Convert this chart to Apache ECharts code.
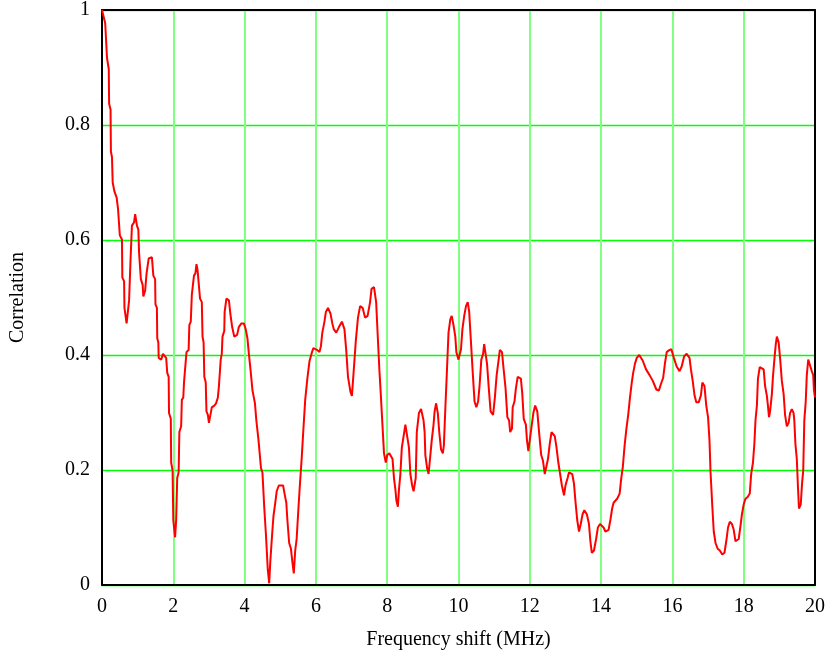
<!DOCTYPE html>
<html>
<head>
<meta charset="utf-8">
<script src="https://cdn.jsdelivr.net/npm/echarts@6/dist/echarts.min.js"></script>
<style>html,body{margin:0;padding:0;background:#fff}#c{width:832px;height:657px}</style>
</head>
<body>
<div id="c"></div>
<script>
const shiftMHz = [0,0.09,0.14,0.19,0.20,0.24,0.25,0.28,0.30,0.35,0.41,0.45,0.50,0.56,0.57,0.62,0.63,0.69,0.73,0.76,0.80,0.84,0.90,0.93,0.98,1.02,1.04,1.09,1.14,1.16,1.21,1.25,1.31,1.40,1.44,1.49,1.50,1.54,1.55,1.58,1.59,1.66,1.71,1.75,1.80,1.83,1.87,1.88,1.93,1.94,1.98,2.00,2.05,2.08,2.11,2.15,2.17,2.22,2.24,2.28,2.30,2.35,2.37,2.43,2.45,2.49,2.52,2.57,2.58,2.62,2.65,2.68,2.73,2.75,2.80,2.82,2.85,2.87,2.91,2.93,2.97,3.00,3.03,3.08,3.15,3.20,3.25,3.28,3.31,3.33,3.36,3.38,3.43,3.44,3.49,3.56,3.60,3.65,3.71,3.79,3.84,3.91,3.98,4.03,4.08,4.12,4.17,4.22,4.29,4.33,4.39,4.46,4.50,4.55,4.60,4.65,4.69,4.72,4.77,4.81,4.86,4.90,4.96,5.08,5.12,5.17,5.20,5.25,5.30,5.34,5.38,5.42,5.46,5.50,5.55,5.60,5.65,5.70,5.76,5.82,5.89,5.93,6.03,6.10,6.14,6.18,6.24,6.28,6.34,6.41,6.46,6.50,6.57,6.65,6.73,6.80,6.85,6.90,6.97,7.01,7.06,7.12,7.18,7.24,7.31,7.38,7.45,7.52,7.56,7.63,7.69,7.73,7.78,7.82,7.86,7.91,7.96,8.00,8.06,8.10,8.15,8.19,8.23,8.26,8.30,8.33,8.37,8.41,8.46,8.51,8.56,8.61,8.65,8.70,8.74,8.80,8.83,8.89,8.95,9.02,9.05,9.07,9.12,9.16,9.20,9.25,9.30,9.33,9.37,9.42,9.46,9.51,9.56,9.59,9.63,9.68,9.72,9.77,9.81,9.86,9.91,9.94,10.00,10.02,10.07,10.11,10.16,10.21,10.26,10.30,10.35,10.40,10.45,10.50,10.55,10.59,10.64,10.69,10.72,10.76,10.80,10.85,10.90,10.97,11.02,11.07,11.12,11.16,11.22,11.26,11.32,11.37,11.42,11.45,11.50,11.52,11.57,11.61,11.66,11.70,11.75,11.79,11.83,11.89,11.92,11.96,12.00,12.05,12.10,12.15,12.21,12.26,12.32,12.37,12.42,12.47,12.51,12.56,12.61,12.65,12.70,12.75,12.80,12.85,12.90,12.96,13.00,13.06,13.10,13.14,13.19,13.24,13.28,13.33,13.38,13.43,13.48,13.53,13.60,13.66,13.70,13.74,13.80,13.86,13.91,13.97,14.02,14.07,14.12,14.16,14.21,14.26,14.31,14.35,14.45,14.52,14.56,14.61,14.66,14.71,14.76,14.81,14.86,14.90,14.95,15.00,15.07,15.17,15.26,15.36,15.45,15.55,15.62,15.68,15.74,15.79,15.84,15.90,15.97,16.04,16.12,16.20,16.26,16.33,16.40,16.48,16.52,16.57,16.62,16.67,16.74,16.80,16.84,16.90,16.95,17.00,17.04,17.07,17.12,17.16,17.21,17.27,17.33,17.40,17.46,17.52,17.56,17.61,17.67,17.72,17.77,17.81,17.86,17.91,17.95,18.00,18.05,18.11,18.17,18.21,18.26,18.30,18.33,18.37,18.40,18.45,18.49,18.56,18.60,18.65,18.68,18.71,18.74,18.79,18.82,18.87,18.90,18.93,18.98,19.02,19.07,19.12,19.16,19.21,19.26,19.30,19.35,19.40,19.42,19.45,19.49,19.52,19.55,19.60,19.64,19.67,19.70,19.74,19.77,19.81,19.86,19.91,19.95,19.97,20.00];
const correlation = [1.0,0.977,0.917,0.897,0.837,0.827,0.754,0.744,0.70,0.684,0.674,0.654,0.608,0.601,0.535,0.528,0.482,0.455,0.455,0.495,0.565,0.625,0.631,0.645,0.625,0.618,0.578,0.532,0.522,0.502,0.512,0.542,0.568,0.570,0.538,0.532,0.488,0.482,0.429,0.422,0.395,0.392,0.402,0.405,0.395,0.369,0.362,0.299,0.289,0.213,0.199,0.113,0.083,0.113,0.186,0.196,0.266,0.276,0.322,0.326,0.352,0.355,0.405,0.409,0.452,0.458,0.505,0.508,0.538,0.542,0.558,0.548,0.545,0.498,0.492,0.432,0.422,0.362,0.352,0.302,0.296,0.282,0.292,0.309,0.312,0.316,0.326,0.346,0.349,0.392,0.402,0.432,0.442,0.475,0.498,0.495,0.472,0.449,0.432,0.435,0.449,0.455,0.455,0.445,0.429,0.402,0.372,0.339,0.316,0.286,0.252,0.203,0.196,0.136,0.086,0.027,0.003,0.040,0.086,0.120,0.143,0.163,0.173,0.173,0.159,0.143,0.113,0.073,0.063,0.040,0.020,0.060,0.080,0.123,0.173,0.219,0.272,0.322,0.359,0.389,0.405,0.412,0.409,0.405,0.415,0.439,0.458,0.475,0.482,0.472,0.455,0.445,0.439,0.449,0.458,0.445,0.409,0.362,0.336,0.329,0.372,0.425,0.465,0.485,0.482,0.465,0.468,0.492,0.515,0.518,0.492,0.439,0.375,0.332,0.286,0.229,0.213,0.226,0.229,0.226,0.219,0.186,0.166,0.146,0.136,0.166,0.193,0.239,0.259,0.279,0.259,0.239,0.193,0.173,0.163,0.186,0.266,0.299,0.306,0.286,0.266,0.226,0.203,0.193,0.219,0.252,0.279,0.302,0.316,0.299,0.266,0.236,0.229,0.243,0.306,0.379,0.439,0.462,0.468,0.452,0.432,0.405,0.392,0.389,0.410,0.445,0.468,0.485,0.492,0.475,0.422,0.369,0.319,0.309,0.319,0.346,0.392,0.402,0.419,0.422,0.385,0.342,0.302,0.296,0.326,0.365,0.389,0.409,0.405,0.379,0.342,0.292,0.286,0.266,0.272,0.309,0.319,0.342,0.362,0.365,0.359,0.332,0.289,0.279,0.252,0.233,0.252,0.276,0.299,0.312,0.302,0.266,0.226,0.216,0.193,0.196,0.219,0.246,0.266,0.269,0.259,0.239,0.213,0.193,0.173,0.156,0.173,0.186,0.196,0.199,0.193,0.176,0.146,0.113,0.093,0.106,0.123,0.130,0.123,0.106,0.076,0.056,0.060,0.080,0.100,0.106,0.106,0.100,0.093,0.090,0.096,0.113,0.133,0.143,0.150,0.159,0.183,0.206,0.243,0.272,0.296,0.326,0.352,0.369,0.385,0.395,0.400,0.390,0.375,0.365,0.355,0.340,0.338,0.350,0.360,0.385,0.405,0.408,0.410,0.395,0.380,0.372,0.380,0.398,0.402,0.395,0.375,0.355,0.330,0.318,0.318,0.330,0.352,0.346,0.312,0.292,0.252,0.196,0.136,0.093,0.073,0.063,0.060,0.053,0.056,0.080,0.100,0.110,0.106,0.096,0.076,0.073,0.080,0.103,0.123,0.140,0.150,0.153,0.159,0.193,0.213,0.246,0.286,0.312,0.359,0.379,0.382,0.375,0.346,0.329,0.312,0.292,0.302,0.332,0.362,0.399,0.419,0.432,0.422,0.395,0.355,0.332,0.296,0.276,0.282,0.299,0.306,0.299,0.286,0.246,0.219,0.173,0.133,0.140,0.179,0.199,0.286,0.319,0.365,0.392,0.395,0.372,0.365,0.339,0.326];
const xTicks = [0, 20, 2];
const yTicks = [0, 1, 0.2];

const chart = echarts.init(document.getElementById('c'), null, {renderer: 'canvas'});
const font = '"Liberation Serif", "Times New Roman", serif';
const data = shiftMHz.map((x, i) => [x, correlation[i]]);
chart.setOption({
  animation: false,
  backgroundColor: '#fff',
  grid: {left: 102, right: 17, top: 10, bottom: 72, containLabel: false},
  xAxis: [{
    type: 'value', min: xTicks[0], max: xTicks[1], interval: xTicks[2],
    name: 'Frequency shift (MHz)', nameLocation: 'middle', nameGap: 45,
    nameTextStyle: {fontFamily: font, fontSize: 20, color: '#000'},
    axisLine: {show: true, onZero: false, lineStyle: {color: '#000', width: 2}},
    axisTick: {show: false},
    axisLabel: {fontFamily: font, fontSize: 20, color: '#000', margin: 12},
    splitLine: {show: true, lineStyle: {color: '#80ff80', width: 2}}
  }, {
    type: 'value', position: 'top', min: xTicks[0], max: xTicks[1], interval: xTicks[2],
    axisLine: {show: true, onZero: false, lineStyle: {color: '#000', width: 2}},
    axisTick: {show: false}, axisLabel: {show: false}, splitLine: {show: false}
  }],
  yAxis: [{
    type: 'value', min: yTicks[0], max: yTicks[1], interval: yTicks[2],
    name: 'Correlation', nameLocation: 'middle', nameGap: 74, nameRotate: 90,
    nameTextStyle: {fontFamily: font, fontSize: 20, color: '#000'},
    axisLine: {show: true, onZero: false, lineStyle: {color: '#000', width: 2}},
    axisTick: {show: false},
    axisLabel: {fontFamily: font, fontSize: 20, color: '#000', margin: 12},
    splitLine: {show: true, lineStyle: {color: '#00ff00', width: 1.3}}
  }, {
    type: 'value', position: 'right', min: yTicks[0], max: yTicks[1], interval: yTicks[2],
    axisLine: {show: true, onZero: false, lineStyle: {color: '#000', width: 2}},
    axisTick: {show: false}, axisLabel: {show: false}, splitLine: {show: false}
  }],
  series: [{
    type: 'line', xAxisIndex: 0, yAxisIndex: 0, data: data,
    showSymbol: false, symbol: 'none',
    lineStyle: {color: '#ff0000', width: 2}, z: 3
  }]
});
</script>
</body>
</html>
